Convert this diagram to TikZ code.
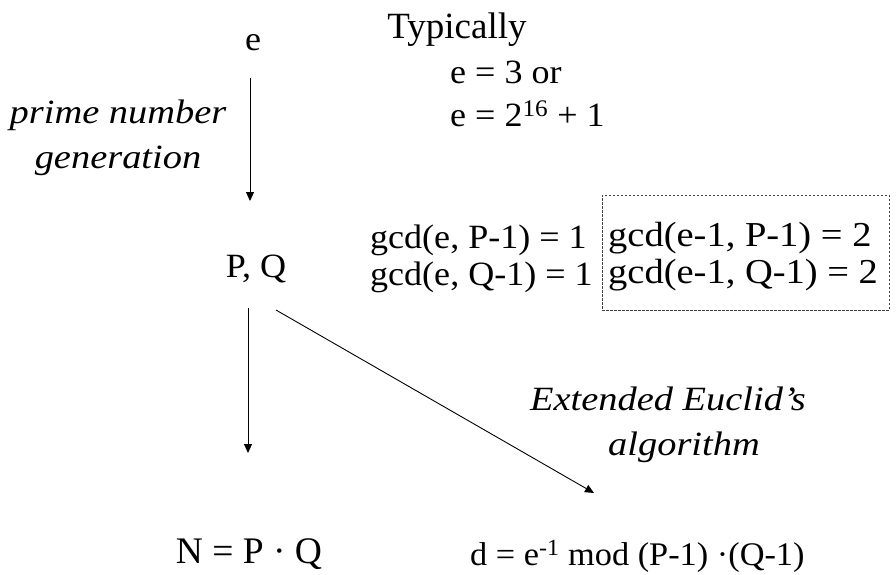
\documentclass[tikz,border=0pt]{standalone}
\usepackage{fontspec}
\setmainfont{Liberation Serif}
\newfontfamily\nfont[FakeStretch=1.06]{Liberation Serif}
\newfontfamily\wfont[FakeStretch=1.13]{Liberation Serif}
\newfontfamily\gfont[FakeStretch=1.1]{Liberation Serif}
\newfontfamily\dfont[FakeStretch=1.04]{Liberation Serif}
\usetikzlibrary{arrows.meta}
\begin{document}
\begin{tikzpicture}[x=1pt,y=-1pt,
  txt/.style={inner sep=0pt, anchor=base west},
  ctxt/.style={inner sep=0pt, anchor=base},
  nf/.style={font=\nfont\fontsize{34}{37}\selectfont},
  itl/.style={font=\wfont\itshape\fontsize{34}{37}\selectfont},
  arr/.style={line width=0.9pt, -{Triangle[length=9pt,width=8pt]}},
  dbox/.style={draw=black!75, dashed, dash pattern=on 2.5pt off 1.5pt, line width=0.7pt}]
\useasboundingbox (0,0) rectangle (896,574);
\node[ctxt, nf] (e) at (253,50) {e};
\node[ctxt, font=\fontsize{37}{40}\selectfont] (typ) at (457,38) {Typically};
\node[txt, nf] (e3) at (450,83) {e = 3 or};
\node[txt, nf] (e216) at (450,126) {e = 2\textsuperscript{16} + 1};
\node[ctxt, itl] (png1) at (118,123) {prime number};
\node[ctxt, itl] (png2) at (118,168) {generation};
\node[ctxt, nf] (pq) at (256,277) {P, Q};
\node[txt, nf] (gcd1) at (370,248) {gcd(e, P-1) = 1};
\node[txt, nf] (gcd2) at (370,285) {gcd(e, Q-1) = 1};
\node[dbox, minimum width=287pt, minimum height=115pt, anchor=north west] (box) at (602,195) {};
\node[txt, font=\gfont\fontsize{35}{37}\selectfont] (gcd3) at (608,246) {gcd(e-1, P-1) = 2};
\node[txt, font=\gfont\fontsize{35}{37}\selectfont] (gcd4) at (608,283) {gcd(e-1, Q-1) = 2};
\node[ctxt, itl] (ext1) at (668,410) {Extended Euclid’s};
\node[ctxt, itl] (ext2) at (684,455) {algorithm};
\node[ctxt, font=\fontsize{37.5}{40}\selectfont] (N) at (249,563) {N = P · Q};
\node[txt, font=\dfont\fontsize{33}{37}\selectfont] (d) at (470,565) {d = e\textsuperscript{-1} mod (P-1) ·(Q-1)};
\coordinate (a1s) at (250,78);
\coordinate (a1e) at (250,201);
\coordinate (a2s) at (248,308);
\coordinate (a2e) at (248,453);
\coordinate (a3s) at (276,310);
\coordinate (a3e) at (594,493);
\draw[arr] (a1s) -- (a1e);
\draw[arr] (a2s) -- (a2e);
\draw[arr] (a3s) -- (a3e);
\end{tikzpicture}
\end{document}
